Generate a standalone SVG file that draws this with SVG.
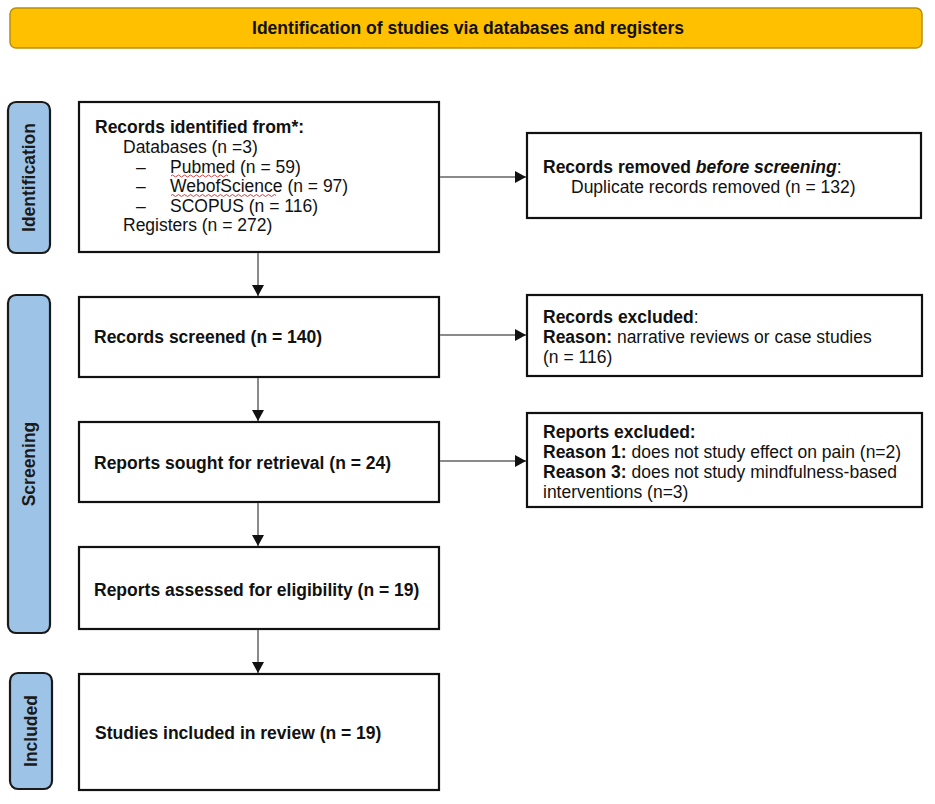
<svg xmlns="http://www.w3.org/2000/svg" width="935" height="804" viewBox="0 0 935 804">
<defs>
<style>
.box{fill:#fff;stroke:#111;stroke-width:2.2}
.side{fill:#9DC3E6;stroke:#1a1a1a;stroke-width:2.2}
.t{font-family:"Liberation Sans",Arial,sans-serif;font-size:17.5px;fill:#111}
.b{font-weight:bold}
.side-t{font-family:"Liberation Sans",Arial,sans-serif;font-size:17.5px;font-weight:bold;fill:#1a1a1a;text-anchor:middle;dominant-baseline:central}
.conn{stroke:#8a8a8a;stroke-width:2;fill:none}
.wavy{stroke:#d04040;stroke-width:1;fill:none}
</style>
<marker id="arr" markerWidth="12" markerHeight="12" refX="11" refY="6" orient="auto" markerUnits="userSpaceOnUse">
<path d="M0,0 L11,6 L0,12 Z" fill="#111"/>
</marker>
</defs>
<rect width="935" height="804" fill="#fff"/>

<g id="header">
<rect x="10" y="8" width="912" height="40" rx="6" fill="#FFC000" stroke="#B8900A" stroke-width="1.5"/>
<text x="468" y="34" class="t b" text-anchor="middle" font-size="17" textLength="432" lengthAdjust="spacingAndGlyphs">Identification of studies via databases and registers</text>
</g>

<g id="side-identification">
<rect class="side" x="8" y="102" width="42" height="151" rx="8"/>
<text class="side-t" transform="translate(29,177.5) rotate(-90)">Identification</text>
</g>
<g id="side-screening">
<rect class="side" x="8" y="295" width="42" height="338" rx="8"/>
<text class="side-t" transform="translate(29,464) rotate(-90)">Screening</text>
</g>
<g id="side-included">
<rect class="side" x="10" y="673" width="42" height="116" rx="8"/>
<text class="side-t" transform="translate(31,731) rotate(-90)">Included</text>
</g>

<g id="records-identified">
<rect class="box" x="79" y="102" width="360" height="150"/>
<text class="t b" x="95" y="133">Records identified from*:</text>
<text class="t" x="123" y="153">Databases (n =3)</text>
<text class="t" x="136" y="172.5" fill="#777" font-size="12">–</text>
<text class="t" x="170" y="172.5">Pubmed (n = 59)</text>
<text class="t" x="136" y="192" fill="#777" font-size="12">–</text>
<text class="t" x="170" y="192">WebofScience (n = 97)</text>
<text class="t" x="136" y="211.5" fill="#777" font-size="12">–</text>
<text class="t" x="170" y="211.5">SCOPUS (n = 116)</text>
<text class="t" x="123" y="231">Registers (n = 272)</text>
<path class="wavy" d="M171,176 q1.5,-2 3,0 t3,0 t3,0 t3,0 t3,0 t3,0 t3,0 t3,0 t3,0 t3,0 t3,0 t3,0 t3,0 t3,0 t3,0 t3,0 t3,0 t3,0 t3,0"/>
<path class="wavy" d="M171,195.5 q1.5,-2 3,0 t3,0 t3,0 t3,0 t3,0 t3,0 t3,0 t3,0 t3,0 t3,0 t3,0 t3,0 t3,0 t3,0 t3,0 t3,0 t3,0 t3,0 t3,0 t3,0 t3,0 t3,0 t3,0 t3,0 t3,0 t3,0 t3,0 t3,0 t3,0 t3,0 t3,0 t3,0 t3,0 t3,0 t3,0"/>
</g>

<g id="records-removed">
<rect class="box" x="527" y="133" width="394" height="85"/>
<text class="t" x="543" y="173"><tspan class="b">Records removed </tspan><tspan class="b" font-style="italic">before screening</tspan>:</text>
<text class="t" x="571" y="193">Duplicate records removed (n = 132)</text>
</g>

<g id="records-screened">
<rect class="box" x="79" y="297" width="360" height="80"/>
<text class="t b" x="94" y="343">Records screened (n = 140)</text>
</g>

<g id="records-excluded">
<rect class="box" x="527" y="295" width="395" height="81"/>
<text class="t" x="543" y="323"><tspan class="b">Records excluded</tspan>:</text>
<text class="t" x="543" y="343"><tspan class="b">Reason:</tspan> narrative reviews or case studies</text>
<text class="t" x="543" y="363">(n = 116)</text>
</g>

<g id="reports-sought">
<rect class="box" x="79" y="422" width="360" height="80"/>
<text class="t b" x="94" y="469">Reports sought for retrieval (n = 24)</text>
</g>

<g id="reports-excluded">
<rect class="box" x="527" y="413" width="395" height="94"/>
<text class="t b" x="543" y="438">Reports excluded:</text>
<text class="t" x="543" y="458"><tspan class="b">Reason 1:</tspan> does not study effect on pain (n=2)</text>
<text class="t" x="543" y="478"><tspan class="b">Reason 3:</tspan> does not study mindfulness-based</text>
<text class="t" x="543" y="498">interventions (n=3)</text>
</g>

<g id="reports-assessed">
<rect class="box" x="79" y="547" width="360" height="82"/>
<text class="t b" x="94" y="596">Reports assessed for eligibility (n = 19)</text>
</g>

<g id="studies-included">
<rect class="box" x="79" y="674" width="360" height="116"/>
<text class="t b" x="95" y="739">Studies included in review (n = 19)</text>
</g>

<g id="connectors">
<line class="conn" x1="258" y1="253" x2="258" y2="296" marker-end="url(#arr)"/>
<line class="conn" x1="258" y1="378" x2="258" y2="421" marker-end="url(#arr)"/>
<line class="conn" x1="258" y1="503" x2="258" y2="546" marker-end="url(#arr)"/>
<line class="conn" x1="258" y1="630" x2="258" y2="673" marker-end="url(#arr)"/>
<line class="conn" x1="440" y1="177" x2="526" y2="177" marker-end="url(#arr)"/>
<line class="conn" x1="440" y1="335" x2="526" y2="335" marker-end="url(#arr)"/>
<line class="conn" x1="440" y1="461" x2="526" y2="461" marker-end="url(#arr)"/>
</g>
</svg>
